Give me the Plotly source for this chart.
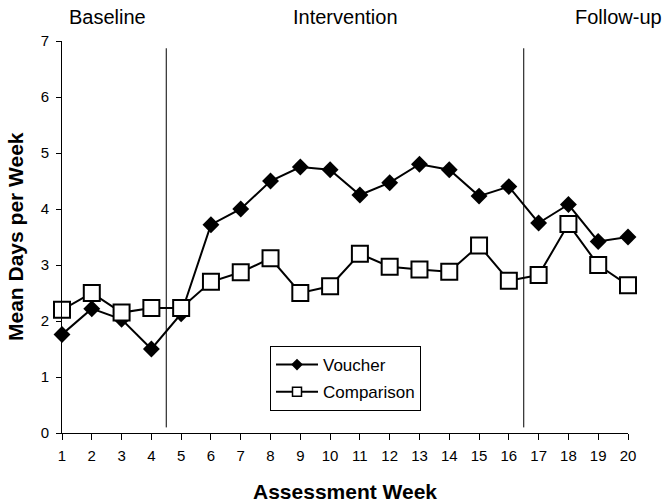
import plotly.graph_objects as go

weeks = list(range(1, 21))
voucher = [1.76, 2.22, 2.03, 1.5, 2.13, 3.72, 4.0, 4.5, 4.75, 4.7,
           4.25, 4.47, 4.8, 4.7, 4.23, 4.4, 3.75, 4.08, 3.42, 3.5]
comparison = [2.2, 2.5, 2.15, 2.23, 2.23, 2.7, 2.87, 3.12, 2.5, 2.62,
              3.2, 2.97, 2.92, 2.88, 3.35, 2.72, 2.82, 3.73, 3.0, 2.64]
phase_labels = ["Baseline", "Intervention", "Follow-up"]
phase_label_x = [2.53, 10.53, 19.68]
phase_breaks = [4.5, 16.5]

FONT = "Liberation Sans, Arial, sans-serif"

fig = go.Figure()
# data traces
fig.add_trace(go.Scatter(
    x=weeks, y=voucher, name="Voucher", mode="lines+markers", showlegend=False,
    line=dict(color="black", width=2),
    marker=dict(symbol="diamond", size=13, color="black"),
))
fig.add_trace(go.Scatter(
    x=weeks, y=comparison, name="Comparison", mode="lines+markers", showlegend=False,
    line=dict(color="black", width=2),
    marker=dict(symbol="square", size=16, color="white", line=dict(width=2, color="black")),
))
# legend entries (smaller symbols, as in the reference legend)
fig.add_trace(go.Scatter(
    x=[None], y=[None], name="Voucher", mode="lines+markers", legendgroup="v",
    line=dict(color="black", width=2),
    marker=dict(symbol="diamond", size=9, color="black"),
))
fig.add_trace(go.Scatter(
    x=[None], y=[None], name="Comparison", mode="lines+markers", legendgroup="c",
    line=dict(color="black", width=2),
    marker=dict(symbol="square", size=9, color="white", line=dict(width=1.5, color="black")),
))

for xb in phase_breaks:
    fig.add_shape(type="line", x0=xb, x1=xb, y0=0.1, y1=6.87, xref="x", yref="y",
                  line=dict(color="black", width=1))

for lab, lx in zip(phase_labels, phase_label_x):
    fig.add_annotation(x=lx, y=1.0, xref="x", yref="paper", yshift=24,
                       text=lab, showarrow=False, yanchor="middle", xanchor="center",
                       font=dict(family=FONT, size=20, color="black"))

fig.add_annotation(x=0.5, y=0, xref="paper", yref="paper", yshift=-58,
                   text="<b>Assessment Week</b>", showarrow=False,
                   xanchor="center", yanchor="middle",
                   font=dict(family=FONT, size=21, color="black"))
fig.add_annotation(x=0, y=0.5, xref="paper", yref="paper", xshift=-47,
                   text="<b>Mean Days per Week</b>", showarrow=False, textangle=-90,
                   xanchor="center", yanchor="middle",
                   font=dict(family=FONT, size=21, color="black"))

fig.update_layout(
    width=671, height=504,
    margin=dict(l=62, r=43, t=41, b=71),
    paper_bgcolor="white", plot_bgcolor="white",
    font=dict(family=FONT, size=15, color="black"),
    showlegend=True,
    legend=dict(x=0.3675, y=0.222, xanchor="left", yanchor="top",
                bordercolor="black", borderwidth=1, bgcolor="white",
                font=dict(family=FONT, size=17), tracegroupgap=2,
                itemwidth=42),
    xaxis=dict(range=[1, 20], tickvals=weeks, ticks="outside", ticklen=6,
               tickcolor="black", showline=True, linecolor="black", linewidth=1,
               showgrid=False, zeroline=False, automargin=False,
               ticklabelstandoff=3,
               tickfont=dict(family=FONT, size=15)),
    yaxis=dict(range=[0, 7], dtick=1, ticks="outside", ticklen=5,
               tickcolor="black", showline=True, linecolor="black", linewidth=1,
               showgrid=False, zeroline=False, automargin=False,
               ticklabelstandoff=4,
               tickfont=dict(family=FONT, size=15)),
)
fig.update_traces(cliponaxis=False)

fig.write_html("out.html",
               config={"displayModeBar": False},
               post_script="document.body.style.margin='0';document.body.style.padding='0';")
